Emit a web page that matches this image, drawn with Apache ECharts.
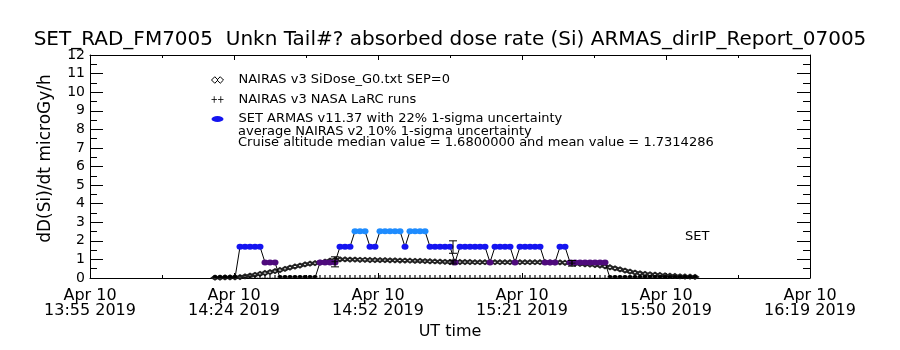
<!DOCTYPE html>
<html>
<head>
<meta charset="utf-8">
<script src="https://cdn.jsdelivr.net/npm/echarts@6/dist/echarts.min.js"></script>
<style>
  html, body { margin: 0; background: #fff; }
  #chart { width: 900px; height: 350px; }
</style>
</head>
<body>
<div id="chart"></div>
<script>
// x axis runs in minutes after 13:55:15 UT, one label every 28.8 min
var axisStartUT = 13 * 60 + 55.25;
var axisSpan = 144;
var tickStep = 28.8;

// samples are 1 min apart, first one 25 min after the axis start
var firstSample = 25;

// SET ARMAS dose rate (microGy/h)
var armasDose = [
  0, 0, 0, 0, 0, 1.68, 1.68, 1.68, 1.68, 1.68,
  0.84, 0.84, 0.84, 0, 0, 0, 0, 0, 0, 0,
  0, 0.84, 0.84, 0.84, 0.84, 1.68, 1.68, 1.68, 2.52, 2.52,
  2.52, 1.68, 1.68, 2.52, 2.52, 2.52, 2.52, 2.52, 1.68, 2.52,
  2.52, 2.52, 2.52, 1.68, 1.68, 1.68, 1.68, 1.68, 0.84, 1.68,
  1.68, 1.68, 1.68, 1.68, 1.68, 0.84, 1.68, 1.68, 1.68, 1.68,
  0.84, 1.68, 1.68, 1.68, 1.68, 1.68, 0.84, 0.84, 0.84, 1.68,
  1.68, 0.84, 0.84, 0.84, 0.84, 0.84, 0.84, 0.84, 0.84, 0,
  0, 0, 0, 0, 0, 0, 0, 0, 0, 0,
  0, 0, 0, 0, 0, 0, 0
];

// NAIRAS v3 SiDose_G0 (SEP=0)
var nairasG0 = [
  0.02, 0.02, 0.03, 0.03, 0.04, 0.05, 0.09, 0.13, 0.17, 0.22,
  0.27, 0.32, 0.37, 0.43, 0.49, 0.56, 0.62, 0.67, 0.73, 0.77,
  0.8, 0.83, 0.88, 0.94, 0.98, 1.0, 1.0, 0.99, 0.99, 0.98,
  0.98, 0.97, 0.97, 0.96, 0.96, 0.95, 0.95, 0.94, 0.94, 0.93,
  0.92, 0.92, 0.91, 0.9, 0.89, 0.88, 0.87, 0.86, 0.86, 0.86,
  0.86, 0.86, 0.85, 0.85, 0.85, 0.85, 0.85, 0.85, 0.85, 0.85,
  0.85, 0.85, 0.85, 0.85, 0.85, 0.85, 0.85, 0.84, 0.84, 0.84,
  0.82, 0.8, 0.78, 0.76, 0.74, 0.72, 0.7, 0.67, 0.63, 0.58,
  0.52, 0.46, 0.4, 0.34, 0.29, 0.25, 0.22, 0.2, 0.18, 0.16,
  0.14, 0.12, 0.11, 0.09, 0.08, 0.07, 0.06
];

// NAIRAS v3 NASA LaRC runs (none for most minutes -> 0)
var larcRuns = [
  0, 0, 0, 0, 0, 0, 0, 0, 0, 0,
  0, 0, 0, 0, 0, 0, 0, 0, 0, 0,
  0, 0, 0, 0, 0, 0, 0, 0, 0, 0,
  0, 0, 0, 0, 0, 0, 0, 0, 0, 0,
  0, 0, 0, 0, 0, 0, 0, 0, 0, 0,
  0, 0, 0, 0, 0, 0, 0, 0, 0, 0,
  0, 0, 0, 0, 0, 0, 0, 0, 0, 0,
  0, 0, 0, 0, 0, 0, 0, 0, 0, 0,
  0, 0, 0, 0, 0, 0, 0, 0, 0, 0,
  0, 0, 0, 0, 0, 0, 0
];
var larcTimes = [49, 72.6, 96.4];
var larcValues = [0.88, 0.86, 0.8];

// 1-sigma uncertainty bars
var errTimes = [49, 72.6, 72.6, 96.4];
var errLow = [0.6, 1.33, 0.76, 0.64];
var errHigh = [1.14, 2.0, 0.96, 0.94];

var doseColors = { 0: '#000000', 0.84: '#4e0a7c', 1.68: '#1414f0', 2.52: '#1e8cff' };

function utLabel(v) {
  var m = Math.floor(axisStartUT + v + 1e-6);
  var hh = Math.floor(m / 60), mm = m % 60;
  return 'Apr 10\n' + hh + ':' + (mm < 10 ? '0' : '') + mm + ' 2019';
}

var font = 'DejaVu Sans';

var armasData = armasDose.map(function (v, i) {
  var item = { value: [firstSample + i, v], itemStyle: { color: doseColors[v] } };
  if (v === 0) {
    item.symbolSize = [5, 3];
    item.symbolOffset = [0, -1.5];
  }
  return item;
});
var g0Data = nairasG0.map(function (v, i) { return [firstSample + i, v]; });
var larcZeroData = larcRuns.map(function (v, i) { return [firstSample + i, v]; });
var larcData = larcTimes.map(function (t, i) { return [t, larcValues[i]]; });
var errData = errTimes.map(function (t, i) { return [t, errLow[i], errHigh[i]]; });

var chart = echarts.init(document.getElementById('chart'));

var blackLine = { color: '#000', width: 1 };

var xBase = {
  type: 'value',
  min: 0,
  max: axisSpan,
  interval: tickStep,
  axisLine: { show: true, onZero: false, lineStyle: blackLine },
  axisTick: { show: true, inside: true, length: 5, lineStyle: blackLine },
  minorTick: { show: true, splitNumber: 2, length: 3, lineStyle: blackLine },
  splitLine: { show: false }
};
var yBase = {
  type: 'value',
  min: 0,
  max: 12,
  interval: 1,
  axisLine: { show: true, onZero: false, lineStyle: blackLine },
  axisTick: { show: true, inside: true, length: 13, lineStyle: blackLine },
  minorTick: { show: true, splitNumber: 2, length: 7, lineStyle: blackLine },
  splitLine: { show: false }
};

var option = {
  animation: false,
  backgroundColor: '#fff',
  title: {
    text: 'SET_RAD_FM7005  Unkn Tail#? absorbed dose rate (Si) ARMAS_dirIP_Report_07005',
    left: 'center',
    top: 25,
    textStyle: { fontFamily: font, fontSize: 20, fontWeight: 'normal', color: '#000' }
  },
  legend: {
    orient: 'vertical',
    left: 209,
    top: 73,
    padding: 0,
    itemWidth: 12,
    itemHeight: 7,
    itemGap: 5.5,
    textStyle: { fontFamily: font, fontSize: 13, color: '#000', lineHeight: 14, padding: [0, 0, 0, 10] },
    data: [
      { name: 'NAIRAS v3 SiDose_G0.txt SEP=0',
        icon: 'path://M0,3L3,0L6,3L3,6ZM5,3L8,0L11,3L8,6Z',
        itemStyle: { color: '#fff', borderColor: '#000', borderWidth: 1 } },
      { name: 'NAIRAS v3 NASA LaRC runs',
        icon: 'path://M0,4L5,4M2.5,1L2.5,7M6,4L11,4M8.5,1L8.5,7',
        itemStyle: { color: 'none', borderColor: '#000', borderWidth: 1 } },
      { name: 'SET ARMAS v11.37 with 22% 1-sigma uncertainty',
        icon: 'path://M0,3A6,3,0,1,1,12,3A6,3,0,1,1,0,3Z',
        itemStyle: { color: '#1414f0', borderWidth: 0 } }
    ]
  },
  graphic: [
    { type: 'text', left: 238, top: 125,
      style: { text: 'average NAIRAS v2 10% 1-sigma uncertainty', fontFamily: font, fontSize: 13, fill: '#000' } },
    { type: 'text', left: 238, top: 136,
      style: { text: 'Cruise altitude median value = 1.6800000 and mean value = 1.7314286', fontFamily: font, fontSize: 13, fill: '#000' } },
    { type: 'text', left: 685, top: 230,
      style: { text: 'SET', fontFamily: font, fontSize: 13, fill: '#000' } }
  ],
  grid: { left: 90, right: 90, top: 55, bottom: 72 },
  xAxis: [
    Object.assign({}, xBase, {
      position: 'bottom',
      name: 'UT time',
      nameLocation: 'middle',
      nameGap: 44,
      nameTextStyle: { fontFamily: font, fontSize: 16, color: '#000' },
      axisLabel: { formatter: utLabel, fontFamily: font, fontSize: 16, color: '#000', lineHeight: 15, margin: 10, align: 'center' }
    }),
    Object.assign({}, xBase, { position: 'top', axisLabel: { show: false } })
  ],
  yAxis: [
    Object.assign({}, yBase, {
      position: 'left',
      name: 'dD(Si)/dt microGy/h',
      nameLocation: 'middle',
      nameGap: 36,
      nameTextStyle: { fontFamily: font, fontSize: 17, color: '#000', padding: [0, 0, 0, 16] },
      axisLabel: { fontFamily: font, fontSize: 14, color: '#000', margin: 5 }
    }),
    Object.assign({}, yBase, { position: 'right', axisLabel: { show: false } })
  ],
  series: [
    {
      name: 'NAIRAS v3 SiDose_G0.txt SEP=0',
      type: 'line',
      data: g0Data,
      symbol: 'emptyDiamond',
      symbolSize: [6, 4],
      showAllSymbol: true,
      lineStyle: { color: '#000', width: 0.4 },
      itemStyle: { color: '#222', borderWidth: 0.7 },
      z: 2
    },
    {
      name: 'NAIRAS v3 NASA LaRC runs',
      type: 'scatter',
      data: larcZeroData,
      symbol: 'path://M0,10L10,10M5,10L5,0',
      symbolSize: [6, 3],
      symbolOffset: [0, -1.5],
      itemStyle: { color: 'none', borderColor: '#000', borderWidth: 1 },
      z: 3
    },
    {
      name: 'NAIRAS v3 NASA LaRC runs',
      type: 'scatter',
      data: larcData,
      symbol: 'path://M0,5L10,5M5,0L5,10',
      symbolSize: 7,
      itemStyle: { color: 'none', borderColor: '#000', borderWidth: 1 },
      z: 6
    },
    {
      name: 'uncertainty',
      type: 'custom',
      data: errData,
      renderItem: function (params, api) {
        var lo = api.coord([api.value(0), api.value(1)]);
        var hi = api.coord([api.value(0), api.value(2)]);
        var w = 4;
        var st = { stroke: '#000', lineWidth: 1 };
        return {
          type: 'group',
          children: [
            { type: 'line', shape: { x1: lo[0], y1: lo[1], x2: hi[0], y2: hi[1] }, style: st },
            { type: 'line', shape: { x1: lo[0] - w, y1: lo[1], x2: lo[0] + w, y2: lo[1] }, style: st },
            { type: 'line', shape: { x1: hi[0] - w, y1: hi[1], x2: hi[0] + w, y2: hi[1] }, style: st }
          ]
        };
      },
      z: 6
    },
    {
      name: 'SET ARMAS v11.37 with 22% 1-sigma uncertainty',
      type: 'line',
      data: armasData,
      symbol: 'circle',
      symbolSize: [7, 6],
      showAllSymbol: true,
      lineStyle: { color: '#000', width: 1 },
      itemStyle: { color: '#1414f0' },
      z: 5
    }
  ]
};

chart.setOption(option);
</script>
</body>
</html>
